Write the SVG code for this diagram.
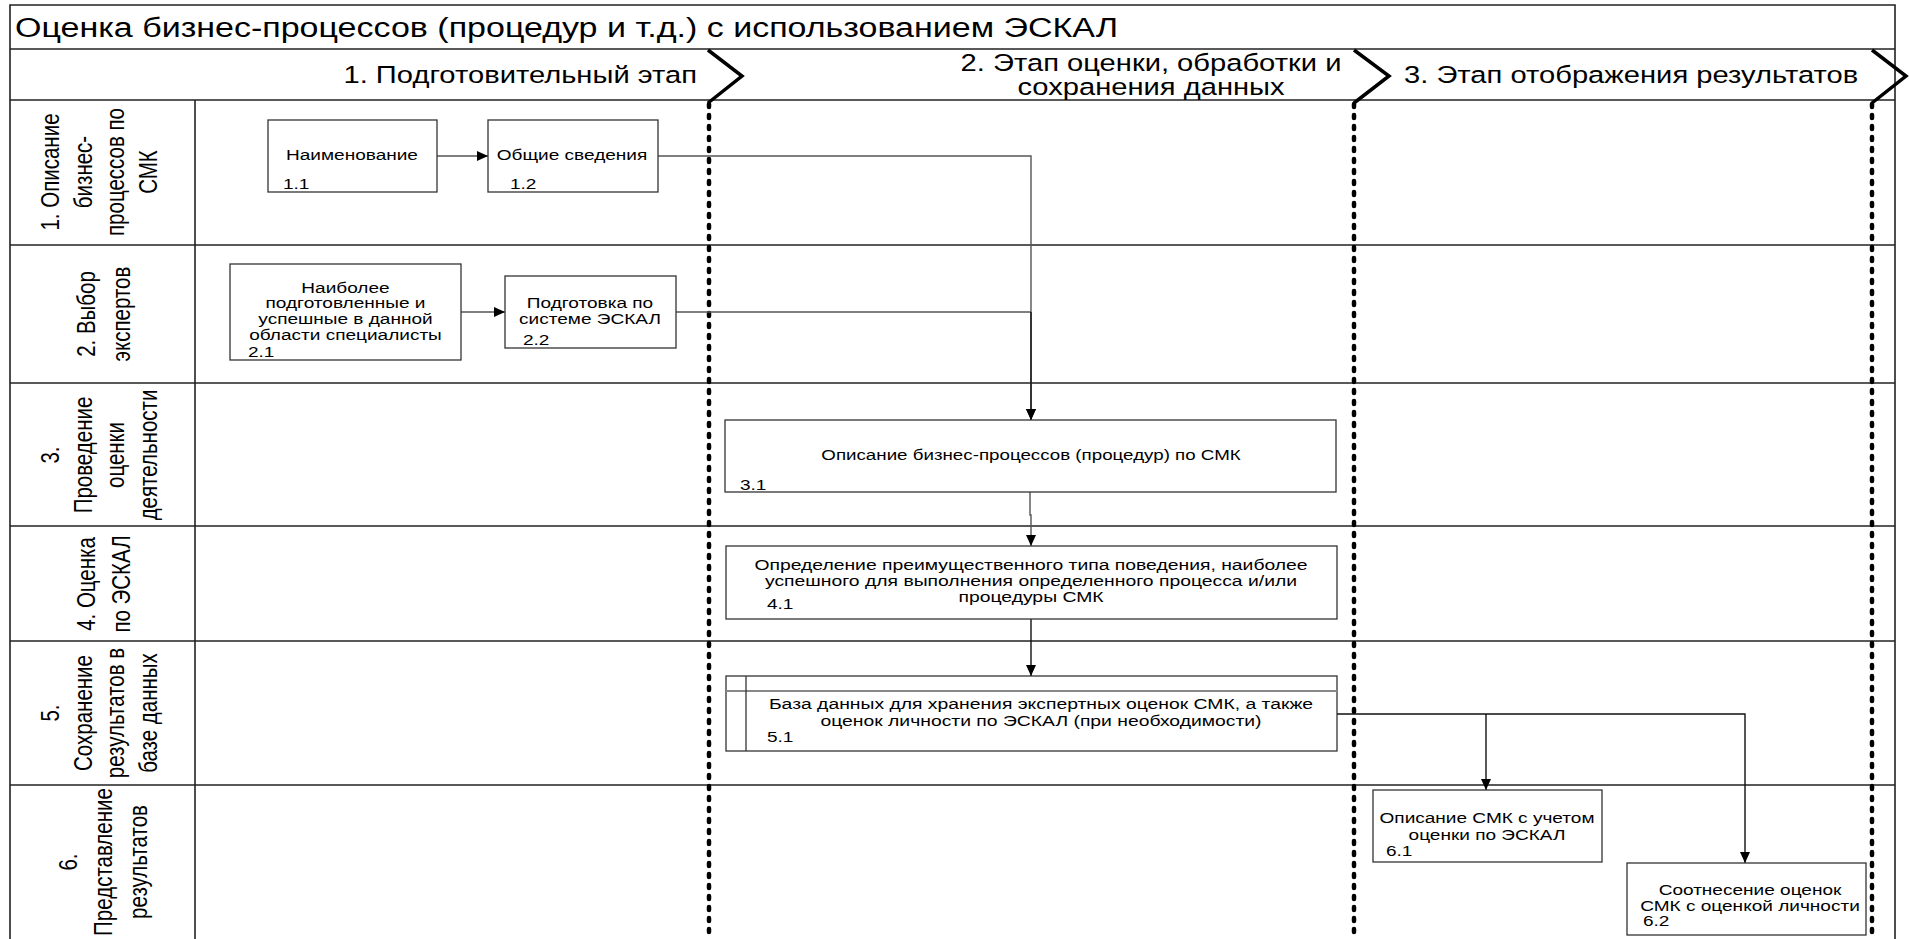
<svg xmlns="http://www.w3.org/2000/svg" width="1910" height="939" viewBox="0 0 1910 939">
<style>
  text { font-family: "Liberation Sans", Arial, sans-serif; fill: #000; }
  .frame { fill: none; stroke: #222; stroke-width: 1.6; }
  .sep { stroke: #222; stroke-width: 1.6; fill: none; }
  .chev { fill: none; stroke: #000; stroke-width: 3.5; stroke-linejoin: miter; }
  .dot { stroke: #000; stroke-width: 4.5; stroke-dasharray: 3 8; stroke-linecap: round; fill: none; }
  .box { fill: #fff; stroke: #333; stroke-width: 1.3; }
  .bt { font-size: 15px; text-anchor: middle; }
  .num { font-size: 15px; text-anchor: start; }
  .lane { font-size: 20.5px; text-anchor: middle; }
  .phase { font-size: 23.5px; }
  .title { font-size: 28px; }
  .con { fill: none; stroke: #555; stroke-width: 1.4; }
  .conk { fill: none; stroke: #111; stroke-width: 1.4; }
</style>
<defs>
  <marker id="arr" markerUnits="userSpaceOnUse" markerWidth="12" markerHeight="10" refX="11" refY="5" orient="auto">
    <path d="M0,0 L11,5 L0,10 z" fill="#000"/>
  </marker>
</defs>
<rect x="0" y="0" width="1910" height="939" fill="#fff"/>

<g id="frame">
  <path class="frame" d="M10,939 V5 H1895 V939"/>
  <line class="sep" x1="10" y1="49" x2="1895" y2="49"/>
  <line class="sep" x1="10" y1="100" x2="1895" y2="100"/>
  <line class="sep" x1="195" y1="100" x2="195" y2="939"/>
  <line class="sep" x1="10" y1="245" x2="1895" y2="245"/>
  <line class="sep" x1="10" y1="383" x2="1895" y2="383"/>
  <line class="sep" x1="10" y1="526" x2="1895" y2="526"/>
  <line class="sep" x1="10" y1="641" x2="1895" y2="641"/>
  <line class="sep" x1="10" y1="785" x2="1895" y2="785"/>
  <g transform="translate(15,0) scale(1.215,1)"><text class="title" x="0" y="37.5">Оценка бизнес-процессов (процедур и т.д.) с использованием ЭСКАЛ</text></g>
</g>

<g id="phases">
  <line class="dot" x1="709" y1="104" x2="709" y2="939"/>
  <line class="dot" x1="1354" y1="104" x2="1354" y2="939"/>
  <line class="dot" x1="1872" y1="104" x2="1872" y2="939"/>
  <path class="chev" d="M708,50 L742,76 L708,103"/>
  <path class="chev" d="M1354,50 L1389,76 L1354,103"/>
  <path class="chev" d="M1872,50 L1906,76 L1872,103"/>
  <g transform="translate(697,0) scale(1.24,1)"><text class="phase" x="0" y="83" text-anchor="end">1. Подготовительный этап</text></g>
  <g transform="translate(1151,0) scale(1.24,1)">
    <text class="phase" x="0" y="71" text-anchor="middle">2. Этап оценки, обработки и</text>
    <text class="phase" x="0" y="95" text-anchor="middle">сохранения данных</text>
  </g>
  <g transform="translate(1404,0) scale(1.24,1)"><text class="phase" x="0" y="83">3. Этап отображения результатов</text></g>
</g>

<g id="lane1" transform="translate(101,172) rotate(-90) scale(1,1.3)">
  <text class="lane" x="0" y="-32">1. Описание</text>
  <text class="lane" x="0" y="-7">бизнес-</text>
  <text class="lane" x="0" y="18">процессов по</text>
  <text class="lane" x="0" y="43">СМК</text>
</g>
<g id="lane2" transform="translate(103,314) rotate(-90) scale(1,1.3)">
  <text class="lane" x="0" y="-6.5">2. Выбор</text>
  <text class="lane" x="0" y="20.5">экспертов</text>
</g>
<g id="lane3" transform="translate(101,455) rotate(-90) scale(1,1.3)">
  <text class="lane" x="0" y="-32">3.</text>
  <text class="lane" x="0" y="-7">Проведение</text>
  <text class="lane" x="0" y="18">оценки</text>
  <text class="lane" x="0" y="43">деятельности</text>
</g>
<g id="lane4" transform="translate(103,584) rotate(-90) scale(1,1.3)">
  <text class="lane" x="0" y="-6.5">4. Оценка</text>
  <text class="lane" x="0" y="20.5">по ЭСКАЛ</text>
</g>
<g id="lane5" transform="translate(101,713) rotate(-90) scale(1,1.3)">
  <text class="lane" x="0" y="-32">5.</text>
  <text class="lane" x="0" y="-7">Сохранение</text>
  <text class="lane" x="0" y="18">результатов в</text>
  <text class="lane" x="0" y="43">базе данных</text>
</g>
<g id="lane6" transform="translate(103,862) rotate(-90) scale(1,1.3)">
  <text class="lane" x="0" y="-20">6.</text>
  <text class="lane" x="0" y="7">Представление</text>
  <text class="lane" x="0" y="34">результатов</text>
</g>

<g id="connectors">
  <path class="con" d="M437,156 H488" marker-end="url(#arr)"/>
  <path class="con" d="M658,156 H1031 V420" marker-end="url(#arr)"/>
  <path class="con" d="M676,312 H1031"/>
  <path class="conk" d="M1031,312 V420" marker-end="url(#arr)"/>
  <path class="con" d="M461,312 H505" marker-end="url(#arr)"/>
  <path class="con" d="M1030,492 V515 H1031 V546" marker-end="url(#arr)"/>
  <path class="conk" d="M1031,619 V676" marker-end="url(#arr)"/>
  <path class="conk" d="M1337,714 H1745 V863" marker-end="url(#arr)"/>
  <path class="conk" d="M1486,714 V790" marker-end="url(#arr)"/>
</g>

<g id="n11">
  <rect class="box" x="268" y="120" width="169" height="72"/>
  <g transform="translate(352,0) scale(1.27,1)"><text class="bt" x="0" y="160">Наименование</text></g>
  <g transform="translate(283,0) scale(1.27,1)"><text class="num" x="0" y="189">1.1</text></g>
</g>
<g id="n12">
  <rect class="box" x="488" y="120" width="170" height="72"/>
  <g transform="translate(572,0) scale(1.27,1)"><text class="bt" x="0" y="160">Общие сведения</text></g>
  <g transform="translate(510,0) scale(1.27,1)"><text class="num" x="0" y="189">1.2</text></g>
</g>
<g id="n21">
  <rect class="box" x="230" y="264" width="231" height="96"/>
  <g transform="translate(345.5,0) scale(1.27,1)">
    <text class="bt" x="0" y="293">Наиболее</text>
    <text class="bt" x="0" y="308.5">подготовленные и</text>
    <text class="bt" x="0" y="324.5">успешные в данной</text>
    <text class="bt" x="0" y="340">области специалисты</text>
  </g>
  <g transform="translate(248,0) scale(1.27,1)"><text class="num" x="0" y="357">2.1</text></g>
</g>
<g id="n22">
  <rect class="box" x="505" y="276" width="171" height="72"/>
  <g transform="translate(590,0) scale(1.27,1)">
    <text class="bt" x="0" y="308">Подготовка по</text>
    <text class="bt" x="0" y="324">системе ЭСКАЛ</text>
  </g>
  <g transform="translate(523,0) scale(1.27,1)"><text class="num" x="0" y="345">2.2</text></g>
</g>
<g id="n31">
  <rect class="box" x="725" y="420" width="611" height="72"/>
  <g transform="translate(1031,0) scale(1.25,1)"><text class="bt" x="0" y="460">Описание бизнес-процессов (процедур) по СМК</text></g>
  <g transform="translate(740,0) scale(1.27,1)"><text class="num" x="0" y="490">3.1</text></g>
</g>
<g id="n41">
  <rect class="box" x="726" y="546" width="611" height="73"/>
  <g transform="translate(1031,0) scale(1.29,1)">
    <text class="bt" x="0" y="570">Определение преимущественного типа поведения, наиболее</text>
    <text class="bt" x="0" y="586">успешного для выполнения определенного процесса и/или</text>
    <text class="bt" x="0" y="602">процедуры СМК</text>
  </g>
  <g transform="translate(767,0) scale(1.27,1)"><text class="num" x="0" y="609">4.1</text></g>
</g>
<g id="n51">
  <rect class="box" x="726" y="676" width="611" height="75"/>
  <line x1="726" y1="691" x2="1337" y2="691" stroke="#888" stroke-width="2"/>
  <line x1="746" y1="676" x2="746" y2="751" stroke="#333" stroke-width="1.3"/>
  <g transform="translate(1041,0) scale(1.29,1)">
    <text class="bt" x="0" y="709">База данных для хранения экспертных оценок СМК, а также</text>
    <text class="bt" x="0" y="726">оценок личности по ЭСКАЛ (при необходимости)</text>
  </g>
  <g transform="translate(767,0) scale(1.27,1)"><text class="num" x="0" y="742">5.1</text></g>
</g>
<g id="n61">
  <rect class="box" x="1373" y="790" width="229" height="72"/>
  <g transform="translate(1487,0) scale(1.27,1)">
    <text class="bt" x="0" y="823">Описание СМК с учетом</text>
    <text class="bt" x="0" y="840">оценки по ЭСКАЛ</text>
  </g>
  <g transform="translate(1386,0) scale(1.27,1)"><text class="num" x="0" y="856">6.1</text></g>
</g>
<g id="n62">
  <rect class="box" x="1627" y="863" width="239" height="72"/>
  <g transform="translate(1750,0) scale(1.27,1)">
    <text class="bt" x="0" y="895">Соотнесение оценок</text>
    <text class="bt" x="0" y="911">СМК с оценкой личности</text>
  </g>
  <g transform="translate(1643,0) scale(1.27,1)"><text class="num" x="0" y="926">6.2</text></g>
</g>
</svg>
